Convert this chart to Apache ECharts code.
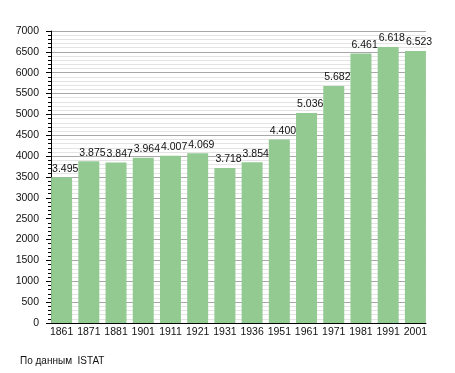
<!DOCTYPE html>
<html><head><meta charset="utf-8">
<script src="https://cdn.jsdelivr.net/npm/echarts@6/dist/echarts.min.js"></script>
<style>html,body{margin:0;padding:0;background:#fff}#c{width:455px;height:373px}</style>
</head><body><div id="c"></div>
<script>
const years = ['1861','1871','1881','1901','1911','1921','1931','1936','1951','1961','1971','1981','1991','2001'];
const population = [3495, 3875, 3847, 3964, 4007, 4069, 3718, 3854, 4400, 5036, 5682, 6461, 6618, 6523];
const yMin = 0, yMax = 7000, yStep = 500;
const sourceNote = 'По данным  ISTAT';

const font = '"Liberation Sans", Arial, sans-serif';
const chart = echarts.init(document.getElementById('c'), null, {renderer: 'canvas'});
chart.setOption({
  animation: false,
  backgroundColor: '#fff',
  textStyle: {fontFamily: font},
  grid: [
    {left: 51, right: 29, top: 31, bottom: 50},
    {left: 48, right: 26, top: 31, bottom: 50}
  ],
  xAxis: [
    {type: 'category', gridIndex: 0, data: years, boundaryGap: true,
     axisLine: {show: true, lineStyle: {color: '#000', width: 1}},
     axisTick: {show: false}, axisLabel: {show: false}, splitLine: {show: false}},
    {type: 'category', gridIndex: 1, data: years, boundaryGap: true,
     axisLine: {show: false}, axisTick: {show: false},
     axisLabel: {show: true, color: '#111', fontSize: 10.5, fontFamily: font, margin: 4, interval: 0}}
  ],
  yAxis: [
    {type: 'value', gridIndex: 0, min: yMin, max: yMax, interval: yStep,
     axisLine: {show: true, lineStyle: {color: '#000', width: 1}},
     axisTick: {show: true, length: 5, lineStyle: {color: '#000'}},
     minorTick: {show: true, splitNumber: 5, length: 3, lineStyle: {color: '#000'}},
     axisLabel: {color: '#111', fontSize: 10.5, fontFamily: font, margin: 12, formatter: v => String(v)},
     splitLine: {show: true, lineStyle: {color: '#a8a8a8', width: 1}},
     minorSplitLine: {show: true, lineStyle: {color: '#e4e4e4', width: 1}}},
    {type: 'value', gridIndex: 1, min: yMin, max: yMax, interval: yStep, show: false,
     splitLine: {show: false}}
  ],
  series: [{
    type: 'bar', xAxisIndex: 1, yAxisIndex: 1, data: population,
    barWidth: 21,
    itemStyle: {color: '#92ca92'},
    label: {show: true, position: 'top', align: 'left', offset: [-9.5, 0], distance: 3,
      color: '#111', fontSize: 10.5, fontFamily: font,
      formatter: p => String(p.value).replace(/\B(?=(\d{3})+(?!\d))/g, '.')}
  }],
  graphic: [{type: 'text', left: 20, top: 356,
    style: {text: sourceNote, fill: '#111', font: '10px ' + font}}]
});
</script></body></html>
